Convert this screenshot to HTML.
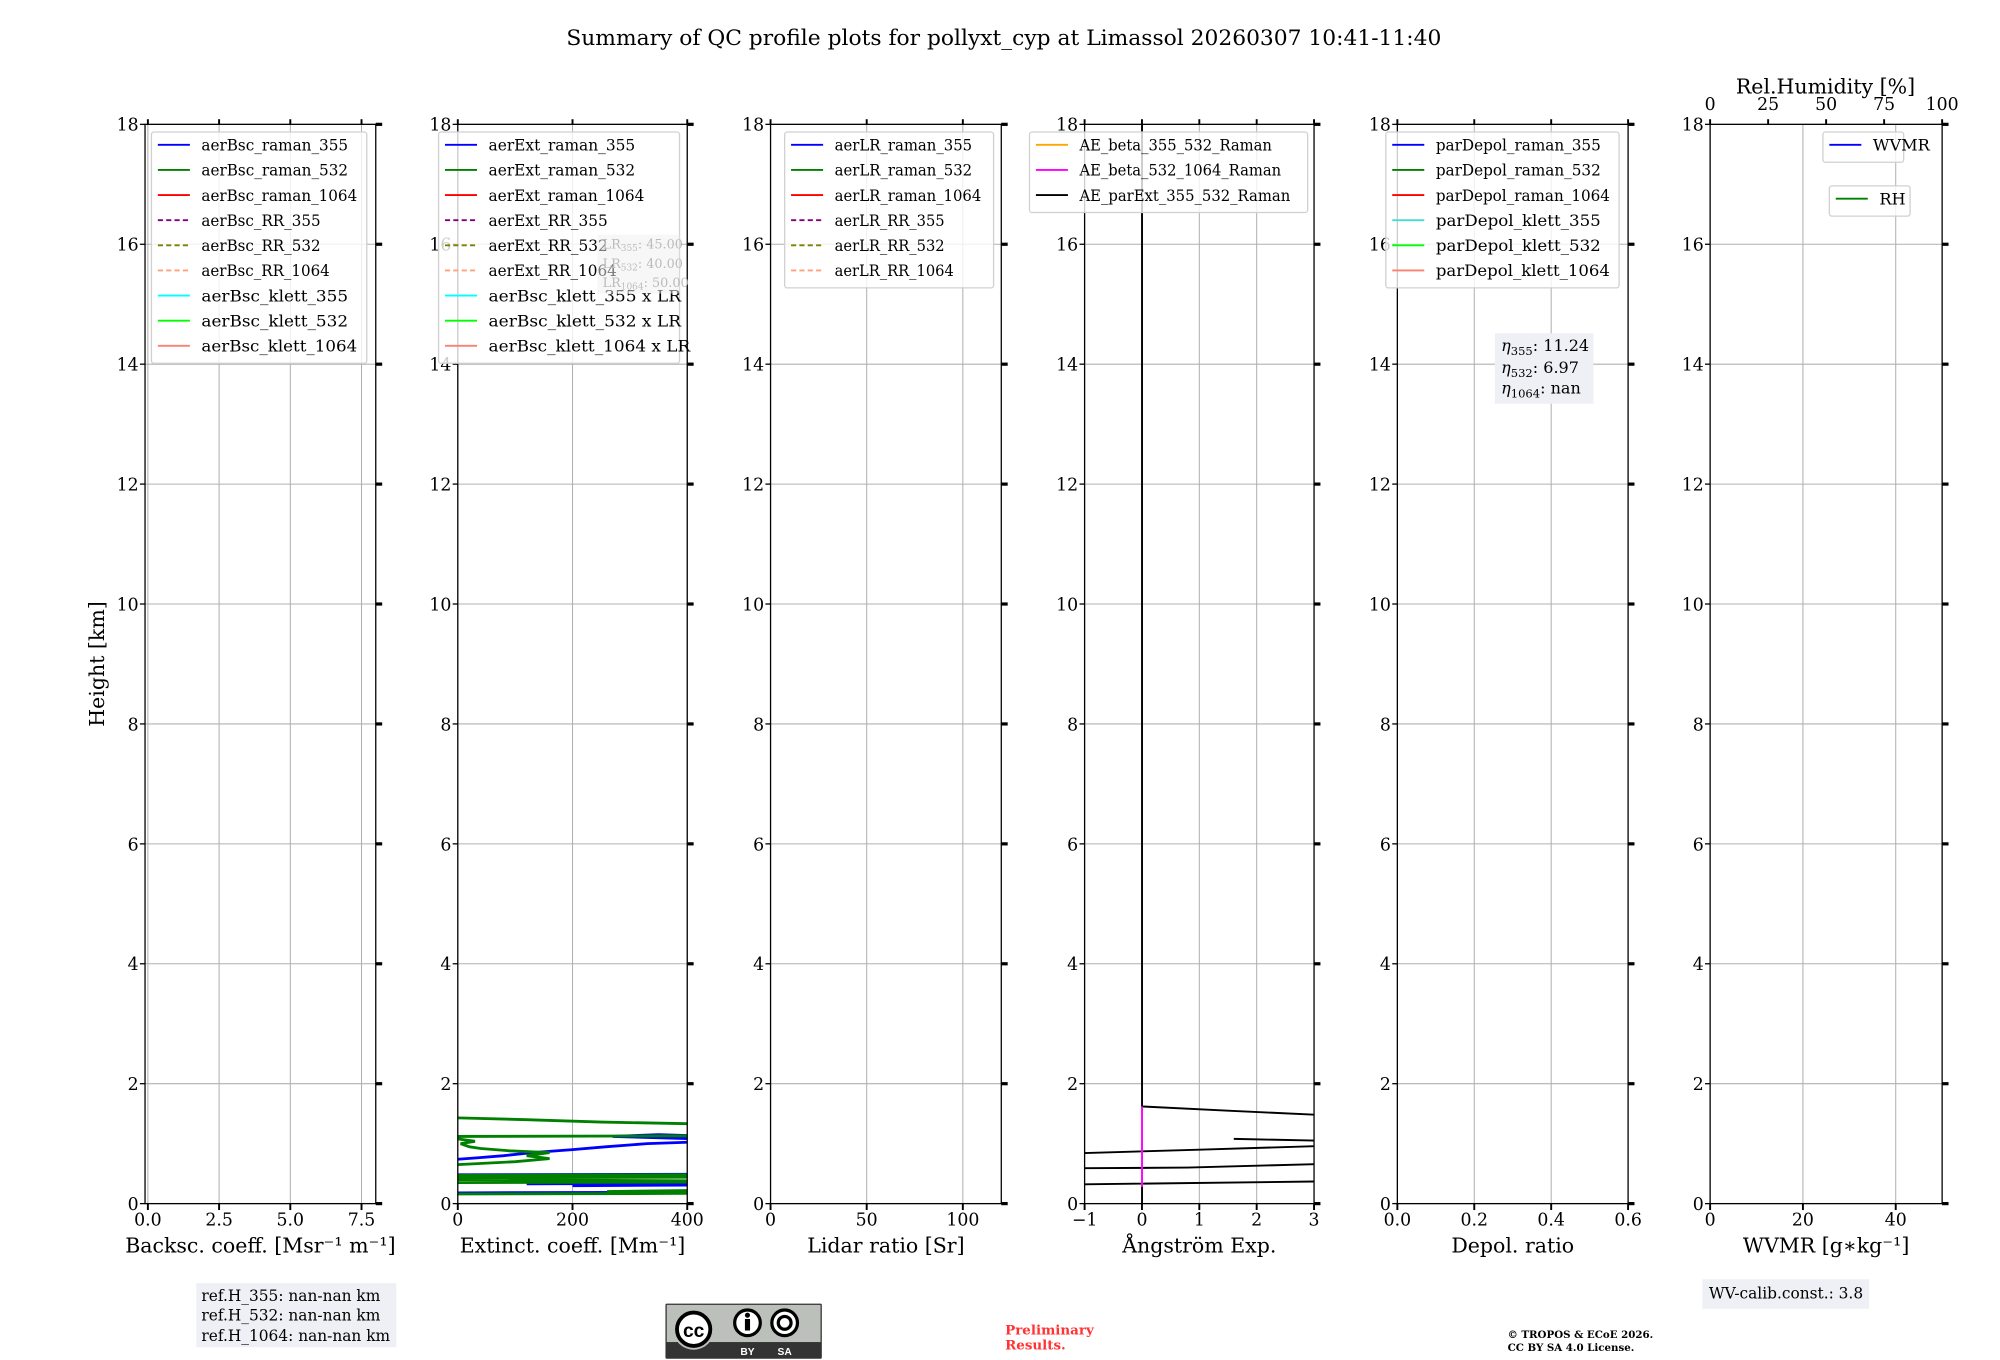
<!DOCTYPE html>
<html><head><meta charset="utf-8"><style>
html,body{margin:0;padding:0;background:#fff;}
svg{display:block;font-family:"DejaVu Serif","Liberation Serif",serif;}
</style></head><body>
<svg id="fig" xmlns="http://www.w3.org/2000/svg" width="2000" height="1360" viewBox="0 0 1560 1061">
<rect width="1560" height="1061" fill="#fff"/>
<text x="783" y="35" font-size="17" text-anchor="middle">Summary of QC profile plots for pollyxt_cyp at Limassol 20260307 10:41-11:40</text>
<g id="panels"></g>
<g id="extras"></g>
</svg>
<script>
// ---- data ----
const heightTicks = [0,2,4,6,8,10,12,14,16,18];
const bscTicks = [0,2.5,5,7.5];
const bscTickLabels = ["0.0","2.5","5.0","7.5"];
const extTicks = [0,200,400];
const extTickLabels = ["0","200","400"];
const lrTicks = [0,50,100];
const lrTickLabels = ["0","50","100"];
const aeTicks = [-1,0,1,2,3];
const aeTickLabels = ["\u22121","0","1","2","3"];
const depTicks = [0,0.2,0.4,0.6];
const depTickLabels = ["0.0","0.2","0.4","0.6"];
const wvTicks = [0,20,40];
const wvTickLabels = ["0","20","40"];
const rhTicks = [0,25,50,75,100];
const rhTickLabels = ["0","25","50","75","100"];

// extinction profiles: heights (km) and values (Mm-1); null = gap
const ext355Heights = [0.18,0.19,null,0.30,0.31,null,0.33,0.34,null,0.45,0.46,null,0.48,0.49,null,0.74,0.76,0.80,0.85,0.90,0.95,1.00,1.03,1.05,null,1.08,1.12,1.15,1.13,1.10];
const ext355Values  = [0,420,null,200,420,null,120,420,null,0,420,null,0,420,null,0,30,80,130,200,260,330,420,420,null,420,270,350,420,420];
const ext532Heights = [0.16,0.17,null,0.20,0.22,null,0.35,0.36,0.38,0.40,null,0.43,0.44,null,0.47,0.48,null,0.65,0.70,0.75,0.80,0.85,0.88,0.92,0.95,1.00,1.04,1.08,null,1.12,1.13,null,1.43,1.40,1.36,1.33];
const ext532Values  = [0,420,null,260,420,null,0,420,420,0,null,0,420,null,0,420,null,0,100,160,120,160,90,40,20,5,30,0,null,0,420,null,0,120,250,420];
// Angstrom exponent profiles
const aeParExtHeights = [0.0,0.30,null,0.32,0.37,null,0.59,0.60,0.66,null,0.84,0.90,0.96,null,1.08,1.05,null,1.62,1.55,1.48,null,1.62,18];
const aeParExtValues  = [0,0,null,-1.1,3.1,null,-1.1,0.8,3.1,null,-1.1,1,3.1,null,1.6,3.1,null,0,1.5,3.1,null,0,0];
const aeBeta5321064Heights = [0.28,1.62];
const aeBeta5321064Values  = [0,0];

const TOP=97, BOT=939, HMAX=18;
const NS="http://www.w3.org/2000/svg";
function yScale(h){return BOT-(h/HMAX)*(BOT-TOP);}
function mk(tag,attrs,parent){const e=document.createElementNS(NS,tag);for(const k in attrs)e.setAttribute(k,attrs[k]);if(parent)parent.appendChild(e);return e;}
function txt(parent,x,y,s,size,anchor,extra){const t=mk('text',Object.assign({x:x,y:y,'font-size':size,'text-anchor':anchor||'start'},extra||{}),parent);t.textContent=s;return t;}

const panels=[
 {id:'bsc',x0:113,x1:293,lim:[-0.1,8],ticks:bscTicks,labels:bscTickLabels,xlabel:'Backsc. coeff. [Msr⁻¹ m⁻¹]'},
 {id:'ext',x0:357,x1:536,lim:[0,400],ticks:extTicks,labels:extTickLabels,xlabel:'Extinct. coeff. [Mm⁻¹]'},
 {id:'lr',x0:601,x1:781,lim:[0,120],ticks:lrTicks,labels:lrTickLabels,xlabel:'Lidar ratio [Sr]'},
 {id:'ae',x0:846,x1:1025,lim:[-1,3],ticks:aeTicks,labels:aeTickLabels,xlabel:'Ångström Exp.'},
 {id:'dep',x0:1090,x1:1270,lim:[0,0.6],ticks:depTicks,labels:depTickLabels,xlabel:'Depol. ratio'},
 {id:'wv',x0:1334,x1:1515,lim:[0,50],ticks:wvTicks,labels:wvTickLabels,xlabel:'WVMR [g∗kg⁻¹]'}
];
const root=document.getElementById('panels');
const defs=mk('defs',{},root);
panels.forEach(p=>{
 p.xs=v=>p.x0+(v-p.lim[0])/(p.lim[1]-p.lim[0])*(p.x1-p.x0);
 const g=mk('g',{},root);
 
 
 const cp=mk('clipPath',{id:'clip-'+p.id},defs);
 mk('rect',{x:p.x0,y:TOP,width:p.x1-p.x0,height:BOT-TOP},cp);
 heightTicks.forEach(h=>{mk('line',{x1:p.x0,x2:p.x1,y1:yScale(h),y2:yScale(h),stroke:'#b0b0b0','stroke-width':0.8},g);});
 p.ticks.forEach(v=>{mk('line',{x1:p.xs(v),x2:p.xs(v),y1:TOP,y2:BOT,stroke:'#b0b0b0','stroke-width':0.8},g);});
 p.g=g;
 p.data=mk('g',{'clip-path':'url(#clip-'+p.id+')'},g);
});
function drawProfile(p,hs,vs,color,name,w){
 let d='',pen=false;
 hs.forEach((h,i)=>{
  if(h===null||vs[i]===null){pen=false;return;}
  d+=(pen?'L':'M')+p.xs(vs[i]).toFixed(1)+','+yScale(h).toFixed(1);
  pen=true;
 });
 const pl=mk('path',{d:d,fill:'none',stroke:color,'stroke-width':w||1.5},p.data);
 
 
}
drawProfile(panels[1],ext355Heights,ext355Values,'#0000ff','ext-raman-355-line',2.2);
drawProfile(panels[1],ext532Heights,ext532Values,'#008000','ext-raman-532-line',2.2);
drawProfile(panels[3],aeParExtHeights,aeParExtValues,'#000','ae-parext-355-532-line',1.5);
drawProfile(panels[3],aeBeta5321064Heights,aeBeta5321064Values,'#ff00ff','ae-beta-532-1064-line',1.5);

panels.forEach((p,i)=>{
 const g=p.g;
 mk('rect',{x:p.x0,y:TOP,width:p.x1-p.x0,height:BOT-TOP,fill:'none',stroke:'#000','stroke-width':1},g);
 heightTicks.forEach(h=>{
  const y=yScale(h);
  mk('line',{x1:p.x0-4,x2:p.x0,y1:y,y2:y,stroke:'#000','stroke-width':1},g);
  mk('line',{x1:p.x1,x2:p.x1+5,y1:y,y2:y,stroke:'#000','stroke-width':2.5},g);
  const t=txt(g,p.x0-5,y+5,String(h),13.5,'end');
  
  
 });
 p.ticks.forEach((v,k)=>{
  const x=p.xs(v);
  mk('line',{x1:x,x2:x,y1:BOT,y2:BOT+5,stroke:'#000','stroke-width':1.5},g);
  if(p.id!=='wv') mk('line',{x1:x,x2:x,y1:TOP-4,y2:TOP,stroke:'#000','stroke-width':1.5},g);
  const t=txt(g,x,956,p.labels[k],13.5,'middle');
  
  
 });
 const xl=txt(g,(p.x0+p.x1)/2,977,p.xlabel,16,'middle');
 
 
});
const wv=panels[5];
const rhScale=v=>wv.x0+v/100*(wv.x1-wv.x0);
rhTicks.forEach((v,k)=>{
 const x=rhScale(v);
 mk('line',{x1:x,x2:x,y1:TOP-4,y2:TOP,stroke:'#000','stroke-width':1.5},wv.g);
 const t=txt(wv.g,x,86,rhTickLabels[k],13.5,'middle');
 
 
});
const rhl=txt(wv.g,1424,73,'Rel.Humidity [%]',16,'middle');


const yl=txt(root,0,0,'Height [km]',16,'middle',{transform:'translate(81,518) rotate(-90)'});



function legend(x,y,w,entries,name){
 const g=mk('g',{},root);
 
 
 const h=entries.length*19.6+4;
 mk('rect',{x:x,y:y,width:w,height:h,rx:2,fill:'#fff','fill-opacity':0.8,stroke:'#d0d0d0','stroke-width':1},g);
 entries.forEach((e,i)=>{
  const yy=y+10+i*19.6;
  mk('line',{x1:x+5,x2:x+30,y1:yy,y2:yy,stroke:e[1],'stroke-width':1.5,'stroke-dasharray':e[2]?'4,2.5':'none'},g);
  const extra=e[0].length>10?{textLength:e[0].length*7.15,lengthAdjust:'spacingAndGlyphs'}:{};
  const t=txt(g,x+39,yy+4.5,e[0],12.6,'start',extra);
  
  
 });
}
const C={b:'#0000ff',g:'#008000',r:'#ff0000',p:'#800080',o:'#808000',s:'#ffa07a',c:'#00ffff',l:'#00ff00',k:'#fa8072'};
legend(118,103,168,[['aerBsc_raman_355',C.b],['aerBsc_raman_532',C.g],['aerBsc_raman_1064',C.r],['aerBsc_RR_355',C.p,1],['aerBsc_RR_532',C.o,1],['aerBsc_RR_1064',C.s,1],['aerBsc_klett_355',C.c],['aerBsc_klett_532',C.l],['aerBsc_klett_1064',C.k]],'bsc-legend');
legend(342,103,188,[['aerExt_raman_355',C.b],['aerExt_raman_532',C.g],['aerExt_raman_1064',C.r],['aerExt_RR_355',C.p,1],['aerExt_RR_532',C.o,1],['aerExt_RR_1064',C.s,1],['aerBsc_klett_355 x LR',C.c],['aerBsc_klett_532 x LR',C.l],['aerBsc_klett_1064 x LR',C.k]],'ext-legend');
legend(612,103,163,[['aerLR_raman_355',C.b],['aerLR_raman_532',C.g],['aerLR_raman_1064',C.r],['aerLR_RR_355',C.p,1],['aerLR_RR_532',C.o,1],['aerLR_RR_1064',C.s,1]],'lr-legend');
legend(803,103,217,[['AE_beta_355_532_Raman','#ffa500'],['AE_beta_532_1064_Raman','#ff00ff'],['AE_parExt_355_532_Raman','#000']],'ae-legend');
legend(1081,103,182,[['parDepol_raman_355',C.b],['parDepol_raman_532',C.g],['parDepol_raman_1064',C.r],['parDepol_klett_355','#40e0d0'],['parDepol_klett_532',C.l],['parDepol_klett_1064',C.k]],'depol-legend');
legend(1422,103,63,[['WVMR',C.b]],'wvmr-legend');
legend(1427,145,63,[['RH',C.g]],'rh-legend');

const ex=document.getElementById('extras');
ex.innerHTML=`
<g fill="#bbb" font-size="10">
<rect x="466" y="183" width="64" height="46" fill="#f0f0f0" fill-opacity="0.5"/>
<text x="470" y="194">LR<tspan font-size="7" dy="2">355</tspan><tspan dy="-2">: 45.00</tspan></text>
<text x="470" y="209">LR<tspan font-size="7" dy="2">532</tspan><tspan dy="-2">: 40.00</tspan></text>
<text x="470" y="224">LR<tspan font-size="7" dy="2">1064</tspan><tspan dy="-2">: 50.00</tspan></text>
</g>
<g font-size="12.5">
<rect x="1166" y="260" width="77" height="55" fill="#eef0f5"/>
<text x="1171" y="274"><tspan font-style="italic">η</tspan><tspan font-size="9" dy="3">355</tspan><tspan dy="-3">: 11.24</tspan></text>
<text x="1171" y="291"><tspan font-style="italic">η</tspan><tspan font-size="9" dy="3">532</tspan><tspan dy="-3">: 6.97</tspan></text>
<text x="1171" y="307"><tspan font-style="italic">η</tspan><tspan font-size="9" dy="3">1064</tspan><tspan dy="-3">: nan</tspan></text>
</g>
<g font-size="12">
<rect x="153" y="1001" width="156" height="50" fill="#eef0f5"/>
<text x="157" y="1015">ref.H_355: nan-nan km</text>
<text x="157" y="1030">ref.H_532: nan-nan km</text>
<text x="157" y="1046">ref.H_1064: nan-nan km</text>
</g>
<g font-size="12">
<rect x="1328" y="998" width="130" height="23" fill="#eef0f5"/>
<text x="1333" y="1013">WV-calib.const.: 3.8</text>
</g>
<g>
<rect x="519" y="1017" width="122" height="43" fill="#333" rx="1"/>
<rect x="520" y="1018" width="120" height="29" fill="#bcc0bb"/>
<circle cx="541" cy="1037" r="16" fill="#bcc0bb"/>
<circle cx="541" cy="1037" r="13" fill="#fff" stroke="#000" stroke-width="3"/>
<text x="541" y="1043" font-size="15" font-weight="bold" text-anchor="middle" font-family="Liberation Sans, sans-serif">cc</text>
<circle cx="583" cy="1032" r="10" fill="#fff" stroke="#000" stroke-width="2.5"/>
<circle cx="583" cy="1026" r="2" fill="#000"/><rect x="581" y="1029" width="4" height="9" fill="#000"/>
<circle cx="612" cy="1032" r="10" fill="#fff" stroke="#000" stroke-width="2.5"/>
<circle cx="612" cy="1032" r="5" fill="none" stroke="#000" stroke-width="2.5"/>
<text x="583" y="1057" font-size="8" fill="#fff" text-anchor="middle" font-family="Liberation Sans, sans-serif" font-weight="bold">BY</text>
<text x="612" y="1057" font-size="8" fill="#fff" text-anchor="middle" font-family="Liberation Sans, sans-serif" font-weight="bold">SA</text>
</g>
<g fill="#ff3333" font-size="10.5" font-weight="bold">
<text x="784" y="1041">Preliminary</text><text x="784" y="1053">Results.</text>
</g>
<g font-size="8" font-weight="bold">
<text x="1176" y="1044">© TROPOS &amp; ECoE 2026.</text><text x="1176" y="1054">CC BY SA 4.0 License.</text>
</g>`;
</script>
</body></html>
